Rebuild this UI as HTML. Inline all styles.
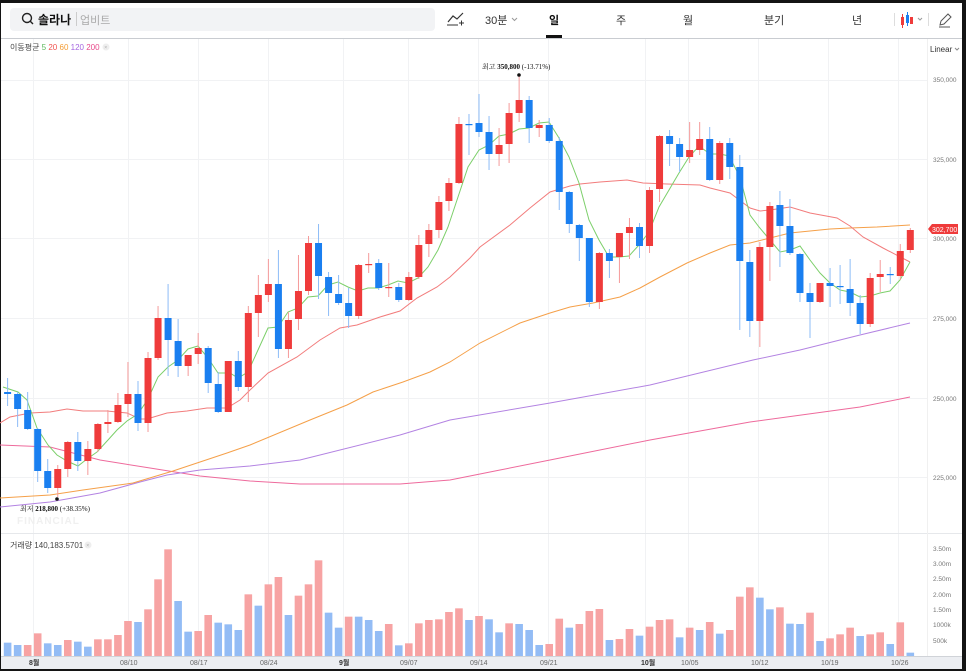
<!DOCTYPE html>
<html><head><meta charset="utf-8">
<style>
html,body{margin:0;padding:0;background:#141414;}
#w{position:relative;width:966px;height:671px;overflow:hidden;background:#141414;font-family:"Liberation Sans","Noto Sans CJK KR",sans-serif;}
#p{position:absolute;left:1px;top:3px;width:961px;height:666px;background:#fff;}
svg{position:absolute;left:0;top:0;}
</style></head><body>
<div id="w"><div id="p"></div>
<svg id="s" width="966" height="671" viewBox="0 0 966 671" xmlns="http://www.w3.org/2000/svg" font-family="Liberation Sans, Noto Sans CJK KR, sans-serif">
<rect x="1" y="3" width="961" height="35" fill="#fff"/>
<line x1="1" y1="38.5" x2="962" y2="38.5" stroke="#c9ccd1"/>
<rect x="10" y="8" width="425" height="23" rx="4" fill="#f2f3f5"/>
<circle cx="27" cy="18" r="4.5" fill="none" stroke="#222" stroke-width="1.4"/>
<line x1="30" y1="21" x2="33" y2="24" stroke="#222" stroke-width="1.4"/>
<text x="38" y="24" font-size="12" font-weight="bold" fill="#111">솔라나</text>
<line x1="76.5" y1="12" x2="76.5" y2="26" stroke="#ccc"/>
<text x="80" y="24" font-size="11" fill="#aaa">업비트</text>
<path d="M448 22 L453 16 L457 19 L463 13" fill="none" stroke="#333" stroke-width="1.2"/>
<line x1="447" y1="25" x2="458" y2="25" stroke="#333"/><path d="M459 23 h5 M461.5 20.5 v5" stroke="#333"/>
<text x="485" y="24" font-size="11" fill="#333">30분</text>
<path d="M512 18 l2.5 2.5 l2.5 -2.5" fill="none" stroke="#999"/>
<text x="549" y="24" font-size="11" font-weight="bold" fill="#111">일</text>
<rect x="546" y="35" width="16" height="3" fill="#111"/>
<text x="616" y="24" font-size="11" fill="#333">주</text>
<text x="683" y="24" font-size="11" fill="#333">월</text>
<text x="764" y="24" font-size="11" fill="#333">분기</text>
<text x="852" y="24" font-size="11" fill="#333">년</text>
<line x1="894.5" y1="13" x2="894.5" y2="26" stroke="#ddd"/>
<rect x="901" y="17" width="3" height="8" fill="#ef3b3b"/><line x1="902.5" y1="14" x2="902.5" y2="28" stroke="#ef3b3b"/>
<rect x="906" y="15" width="3" height="8" fill="#1a7ff0"/><line x1="907.5" y1="12" x2="907.5" y2="26" stroke="#1a7ff0"/>
<rect x="910" y="17" width="3" height="7" fill="#ef3b3b"/>
<path d="M918 18 l2 2 l2 -2" fill="none" stroke="#999"/>
<line x1="928.5" y1="13" x2="928.5" y2="26" stroke="#ddd"/>
<path d="M940 25 l1 -4 l7 -7 l3 3 l-7 7 z" fill="none" stroke="#555"/>
<line x1="939" y1="27" x2="950" y2="27" stroke="#555"/>
<g id="grid" stroke="#f1f2f4" stroke-width="1"></g>
<line x1="1" y1="533.5" x2="962" y2="533.5" stroke="#e6e8eb"/>
<line x1="927.5" y1="39" x2="927.5" y2="656" stroke="#f0f0f0"/>
<rect x="1" y="656" width="961" height="13" fill="#eceef2"/>
<line x1="1" y1="656.5" x2="962" y2="656.5" stroke="#d0d3d8"/>
<g id="ma" fill="none" stroke-width="1"></g>
<g id="c"></g>
<g id="v"></g>
<text x="10" y="50" font-size="8" fill="#444">이동평균 <tspan fill="#5cb85c">5</tspan> <tspan fill="#f0524f">20</tspan> <tspan fill="#f39c34">60</tspan> <tspan fill="#a567e0">120</tspan> <tspan fill="#e8488a">200</tspan></text>
<circle cx="106" cy="47" r="3.5" fill="#eee"/><text x="104.3" y="49" font-size="5" fill="#aaa">×</text>
<text x="930" y="52" font-size="8" fill="#333">Linear</text>
<path d="M955 48 l2 2 l2 -2" fill="none" stroke="#888"/>
<text x="10" y="548" font-size="8" fill="#444">거래량 140,183.5701</text>
<circle cx="88" cy="545" r="3.5" fill="#eee"/><text x="86.3" y="547" font-size="5" fill="#aaa">×</text>
<g font-size="6.5" fill="#777">
<text x="933" y="82">350,000</text><text x="933" y="162">325,000</text><text x="933" y="241">300,000</text>
<text x="933" y="321">275,000</text><text x="933" y="401">250,000</text><text x="933" y="480">225,000</text>
<text x="933" y="551">3.50m</text><text x="933" y="566">3.00m</text><text x="933" y="581">2.50m</text>
<text x="933" y="597">2.00m</text><text x="933" y="612">1.50m</text><text x="933" y="627">1000k</text><text x="933" y="643">500k</text>
</g>
<path d="M928 229 l4 -5 h26 v10 h-26 z" fill="#ef3b3b"/>
<text x="932" y="232" font-size="7" fill="#fff">302,700</text>
<g font-size="7" fill="#666">
<text x="29" y="665" font-weight="bold" fill="#333">8월</text><text x="120" y="665">08/10</text><text x="190" y="665">08/17</text>
<text x="260" y="665">08/24</text><text x="339" y="665" font-weight="bold" fill="#333">9월</text><text x="400" y="665">09/07</text>
<text x="470" y="665">09/14</text><text x="540" y="665">09/21</text><text x="641" y="665" font-weight="bold" fill="#333">10월</text>
<text x="681" y="665">10/05</text><text x="751" y="665">10/12</text><text x="821" y="665">10/19</text><text x="891" y="665">10/26</text>
</g>
<circle cx="519" cy="75" r="1.8" fill="#111"/>
<text x="482" y="69" font-size="7" fill="#111" font-family="Liberation Serif, Noto Serif CJK SC, serif">최고  <tspan font-weight="bold">350,800</tspan> (-13.71%)</text>
<circle cx="57" cy="499" r="1.8" fill="#111"/>
<text x="20" y="511" font-size="7" fill="#111" font-family="Liberation Serif, Noto Serif CJK SC, serif">최저  <tspan font-weight="bold">218,800</tspan> (+38.35%)</text>
<text x="17" y="524" font-size="10" fill="#f0f0f0" font-weight="bold" letter-spacing="1">FINANCIAL</text>
</svg>
</div>
<script>
var NS="http://www.w3.org/2000/svg";
function el(p,t,a){var e=document.createElementNS(NS,t);for(var k in a)e.setAttribute(k,a[k]);p.appendChild(e);return e;}
var g=document.getElementById('grid');
[33,128,198,268,343,408,478,548,645,688,758,828,898].forEach(function(x){el(g,'line',{x1:x+.5,y1:39,x2:x+.5,y2:656});});
[80,159,238,318,398,477].forEach(function(y){el(g,'line',{x1:1,y1:y+.5,x2:927,y2:y+.5});});
var C=[[392,394,378,406,0],[394,409,392,427,0],[410,429,392,430,0],[429,471,428,482,0],[471,488,459,493,0],[469,488,465,497,1],[442,469,441,477,1],[442,461,432,471,0],[449,461,441,475,1],[424,449,423,452,1],[422,424,410,433,1],[405,422,393,423,1],[394,404,362,417,1],[394,423,381,431,0],[358,423,352,432,1],[318,358,306,360,1],[318,340,284,376,0],[341,366,319,377,0],[355,366,355,376,1],[348,354,333,364,1],[348,383,346,393,0],[384,412,372,413,0],[361,412,361,412,1],[361,387,351,391,0],[313,387,306,402,1],[295,313,275,337,1],[284,295,259,302,1],[284,349,250,358,0],[320,349,312,358,1],[291,319,255,330,1],[243,291,236,295,1],[243,276,224,299,0],[277,293,272,316,0],[294,303,275,305,0],[303,316,288,328,0],[265,316,264,319,1],[264,265,253,273,1],[263,288,259,290,0],[287,288,263,297,1],[287,300,283,302,0],[277,300,272,301,1],[245,277,235,279,1],[230,244,224,257,1],[202,230,196,238,1],[183,201,178,211,1],[124,183,117,184,1],[124,125,114,155,0],[123,132,94,137,0],[132,154,116,170,0],[145,154,128,166,1],[113,144,103,163,1],[100,113,75,122,1],[100,128,96,143,0],[125,128,120,137,1],[125,141,118,143,0],[141,192,137,210,0],[192,224,191,233,0],[225,238,224,261,0],[238,302,238,307,0],[253,302,252,309,1],[253,261,249,278,0],[233,257,233,283,1],[227,233,218,259,1],[227,246,223,258,0],[190,246,187,253,1],[136,189,135,202,1],[136,144,130,166,0],[144,157,138,172,0],[150,157,122,163,1],[139,150,122,155,1],[139,180,127,181,0],[143,180,141,184,1],[143,167,138,179,0],[167,261,155,330,0],[262,321,250,337,0],[247,321,242,347,1],[206,247,202,281,1],[205,226,191,267,0],[226,253,199,255,0],[254,293,253,302,0],[293,302,283,338,0],[283,302,283,303,1],[283,286,268,307,0],[286,287,265,304,0],[289,303,259,316,0],[303,324,295,334,0],[278,324,273,327,1],[274,277,260,292,1],[274,275,267,284,0],[251,276,244,280,1],[230,250,228,253,1]];
var V=[338,345,345,310,340,345,330,335,350,328,328,315,273,276,238,148,58,213,305,303,255,278,283,300,193,227,163,141,255,197,163,91,248,293,260,260,270,303,282,346,340,280,270,268,246,235,270,258,268,307,280,282,300,345,342,266,293,282,243,237,330,327,297,317,290,270,268,322,293,300,276,311,300,200,172,203,238,232,281,282,248,333,325,313,293,318,313,307,342,277,368];
var VC="bbrrbbrbbrrrrbrrrbbrrbbbrbrrbrrrbbrbbbrbrrrrrrbrbbrbbbrrbrrrbrrbrrrbrbrbrrrbbrbbrbrrrbrrbrb";
var cg=document.getElementById('c'),vg=document.getElementById('v');
C.forEach(function(c,i){
 var x=7.6+i*10.03, col=c[4]?'#ef3b3b':'#1a7ff0', wc=c[4]?'#f59a9a':'#8dbcf7';
 el(cg,'line',{x1:x,y1:c[2],x2:x,y2:c[3],stroke:wc,'stroke-width':1});
 el(cg,'rect',{x:x-3.5,y:c[0],width:7,height:Math.max(1.2,c[1]-c[0]),fill:col});
 var vt=530+V[i]/3;
 el(vg,'rect',{x:x-3.8,y:vt,width:7.6,height:656-vt,fill:VC[i]=='r'?'#f7a3a3':'#93bcf5'});
});
var ma=document.getElementById('ma');
function pl(col,pts){el(ma,'polyline',{points:pts,stroke:col});}
pl('#ee6a9c','0,445 50,447 100,460 150,468 200,476 250,481 300,484 400,484 450,480 500,470 550,460 650,440 750,422 860,407 910,397');
pl('#b383e2','0,507 50,502 100,493 140,482 167,475 200,470 250,466 300,460 400,435 450,420 550,403 650,385 753,360 800,350 860,335 910,323');
pl('#f5a049','0,498 50,495 83,490 133,483 153,477 173,471 200,462 227,453 250,445 310,420 347,405 373,392 403,382 430,372 450,362 480,343 520,323 550,313 570,307 593,303 620,297 640,288 660,277 687,263 710,253 730,245 750,243 790,233 830,229 850,228 877,227 910,225');
pl('#f27c7c','0,423 10,417 30,413 50,412 67,409 83,411 107,411 127,413 140,419 147,419 167,413 187,411 207,408 227,408 240,400 250,390 268,373 297,357 320,340 340,328 357,325 380,317 400,311 417,298 437,287 450,277 470,258 480,247 510,225 530,208 550,192 570,186 580,184 600,182 627,180 643,183 667,184 700,185 710,188 730,193 750,208 760,211 770,210 790,207 810,213 837,218 850,226 863,237 883,248 910,262');
pl('#7ccf6a','3,387 18,392 27,400 37,428 48,445 57,455 67,461 78,466 87,459 97,452 108,440 117,430 127,421 138,414 148,399 158,377 168,367 178,360 188,349 198,346 208,358 218,373 230,373 238,378 248,372 258,350 268,328 278,327 288,312 298,308 308,297 318,296 328,285 338,282 348,287 358,291 368,288 378,288 388,285 398,281 408,283 418,278 428,267 438,250 448,227 458,197 468,167 479,150 489,145 499,136 509,134 519,129 529,128 539,123 549,122 559,138 569,157 579,183 589,220 599,240 609,257 619,257 629,256 639,245 649,232 659,207 669,190 679,173 689,157 699,146 710,154 720,154 729,156 740,177 750,215 759,227 770,240 780,252 790,250 800,246 810,260 820,273 830,283 840,290 850,292 860,297 870,296 880,293 890,291 900,280 910,262');
</script>
</body></html>
